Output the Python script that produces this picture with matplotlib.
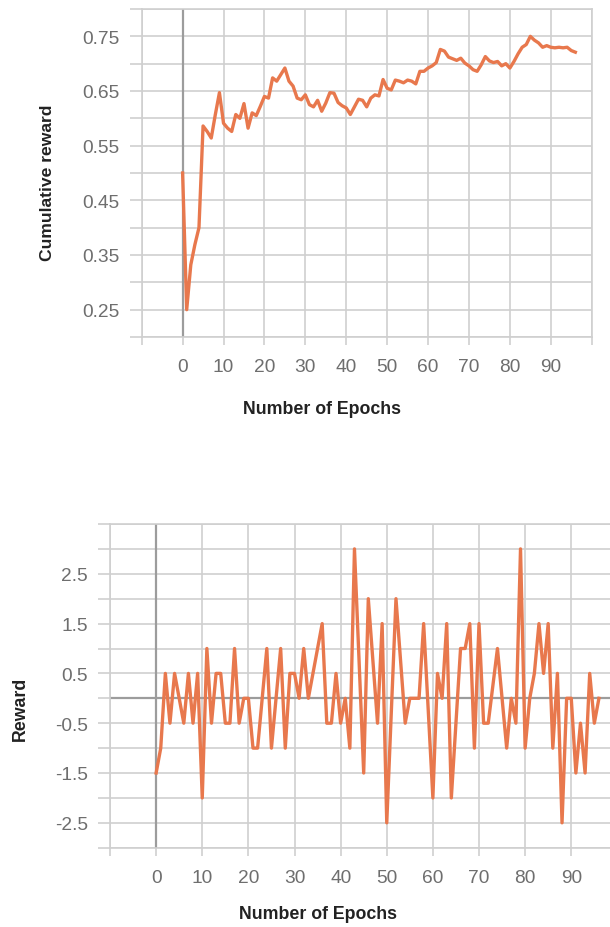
import matplotlib
matplotlib.use("Agg")
import matplotlib.pyplot as plt
import numpy as np

# ---------------- data ----------------
epochs_top = list(range(0, 97))
cumulative_reward = [
    0.500, 0.250, 0.332, 0.369, 0.400, 0.586, 0.576, 0.564, 0.607, 0.647,
    0.591, 0.582, 0.576, 0.607, 0.600, 0.627, 0.582, 0.610, 0.605, 0.622,
    0.640, 0.637, 0.674, 0.668, 0.680, 0.692, 0.668, 0.659, 0.637, 0.634,
    0.643, 0.625, 0.621, 0.633, 0.613, 0.628, 0.647, 0.646, 0.629, 0.623,
    0.619, 0.607, 0.621, 0.635, 0.633, 0.621, 0.637, 0.643, 0.641, 0.671,
    0.655, 0.652, 0.670, 0.668, 0.665, 0.670, 0.668, 0.663, 0.686, 0.686,
    0.692, 0.696, 0.702, 0.726, 0.723, 0.712, 0.709, 0.706, 0.710, 0.701,
    0.696, 0.689, 0.686, 0.698, 0.713, 0.705, 0.702, 0.704, 0.696, 0.700,
    0.692, 0.704, 0.718, 0.730, 0.735, 0.750, 0.743, 0.738, 0.730, 0.733,
    0.730, 0.729, 0.730, 0.729, 0.730, 0.724, 0.721,
]

epochs_bottom = list(range(0, 97))
reward = [
    -1.5, -1.0, 0.5, -0.5, 0.5, 0.0, -0.5, 0.5, -0.5, 0.5,
    -2.0, 1.0, -0.5, 0.5, 0.5, -0.5, -0.5, 1.0, -0.5, 0.0,
    0.0, -1.0, -1.0, 0.0, 1.0, -1.0, 0.0, 1.0, -1.0, 0.5,
    0.5, 0.0, 1.0, 0.0, 0.5, 1.0, 1.5, -0.5, -0.5, 0.5,
    -0.5, 0.0, -1.0, 3.0, 0.75, -1.5, 2.0, 0.75, -0.5, 1.5,
    -2.5, -0.25, 2.0, 0.75, -0.5, 0.0, 0.0, 0.0, 1.5, -0.25,
    -2.0, 0.5, 0.0, 1.5, -2.0, -0.5, 1.0, 1.0, 1.5, -1.0,
    1.5, -0.5, -0.5, 0.25, 1.0, 0.0, -1.0, 0.0, -0.5, 3.0,
    -1.0, 0.0, 0.5, 1.5, 0.5, 1.5, -1.0, 0.5, -2.5, 0.0,
    0.0, -1.5, -0.5, -1.5, 0.5, -0.5, 0.0,
]

x_tick_labels = ["0", "10", "20", "30", "40", "50", "60", "70", "80", "90"]
top_y_labels = ["0.25", "0.35", "0.45", "0.55", "0.65", "0.75"]
bottom_y_labels = ["-2.5", "-1.5", "-0.5", "0.5", "1.5", "2.5"]

# ---------------- style ----------------
plt.rcParams['font.family'] = ['Liberation Sans', 'DejaVu Sans']
LINE = '#E8784D'
GRID = '#cfcfcf'
ZERO = '#9c9c9c'
TICKC = '#6e6e6e'
LABELC = '#222222'
W, H = 610, 928

fig = plt.figure(figsize=(W / 100, H / 100), dpi=100)


def px_axes(left, top, right, bottom):
    return fig.add_axes([left / W, 1 - bottom / H, (right - left) / W, (bottom - top) / H])


def style(ax, xlim, ylim, yticks, ylabels_map, xticks, xlabels_map):
    ax.set_xlim(*xlim)
    ax.set_ylim(*ylim)
    ax.set_xticks(xticks)
    ax.set_xticklabels([xlabels_map.get(round(t, 3), "") for t in xticks])
    ax.set_yticks(yticks)
    ax.set_yticklabels([ylabels_map.get(round(t, 3), "") for t in yticks])
    ax.grid(True, color=GRID, linewidth=1.2, zorder=0)
    ax.set_axisbelow(True)
    for s in ax.spines.values():
        s.set_color(GRID)
        s.set_linewidth(1.2)
    ax.tick_params(axis='both', colors=GRID, labelcolor=TICKC, labelsize=13.8,
                   width=1.2)
    ax.tick_params(axis='y', length=9, pad=7)
    ax.tick_params(axis='x', length=6, pad=9)


# ---------------- top chart ----------------
ax1 = px_axes(141.7, 10, 591.7, 338)
xt1 = list(np.arange(-10, 101, 10))
yt1 = [round(v, 2) for v in np.arange(0.20, 0.801, 0.05)]
style(ax1, (-10, 100), (0.20, 0.80), yt1,
      {float(l): l for l in top_y_labels}, xt1,
      {float(l): l for l in x_tick_labels})
ax1.axvline(0, color=ZERO, linewidth=1.6, zorder=1)
ax1.plot(epochs_top, cumulative_reward, color=LINE, linewidth=2.4, zorder=3)
ax1.set_ylabel("Cumulative reward", fontsize=12.6, fontweight='bold', color=LABELC)
ax1.yaxis.label.set_verticalalignment('center')
ax1.yaxis.set_label_coords((47 - 141.7) / 450, (338 - 183) / 328)
ax1.set_xlabel("Number of Epochs", fontsize=12.8, fontweight='bold', color=LABELC)
ax1.xaxis.label.set_verticalalignment('center')
ax1.xaxis.set_label_coords((322 - 141.7) / 450, (338 - 409) / 328)

# ---------------- bottom chart ----------------
ax2 = px_axes(110, 525, 610, 848.7)
xt2 = list(np.arange(-10, 91, 10))
yt2 = [round(v, 2) for v in np.arange(-3.0, 3.51, 0.5)]
style(ax2, (-10, 98.4), (-3.0, 3.5), yt2,
      {float(l): l for l in bottom_y_labels}, xt2,
      {float(l): l for l in x_tick_labels})
ax2.spines['right'].set_visible(False)
ax2.axvline(0, color=ZERO, linewidth=1.6, zorder=1)
ax2.axhline(0, color=ZERO, linewidth=1.6, zorder=1)
ax2.plot(epochs_bottom, reward, color=LINE, linewidth=2.4, zorder=3)
ax2.set_ylabel("Reward", fontsize=12.8, fontweight='bold', color=LABELC)
ax2.yaxis.label.set_verticalalignment('center')
ax2.yaxis.set_label_coords((20 - 110) / 500, (848.7 - 709) / 323.7)
ax2.set_xlabel("Number of Epochs", fontsize=12.8, fontweight='bold', color=LABELC)
ax2.xaxis.label.set_verticalalignment('center')
ax2.xaxis.set_label_coords((318 - 110) / 500, (848.7 - 915) / 323.7)

fig.savefig("out.png", dpi=100, facecolor='white')
